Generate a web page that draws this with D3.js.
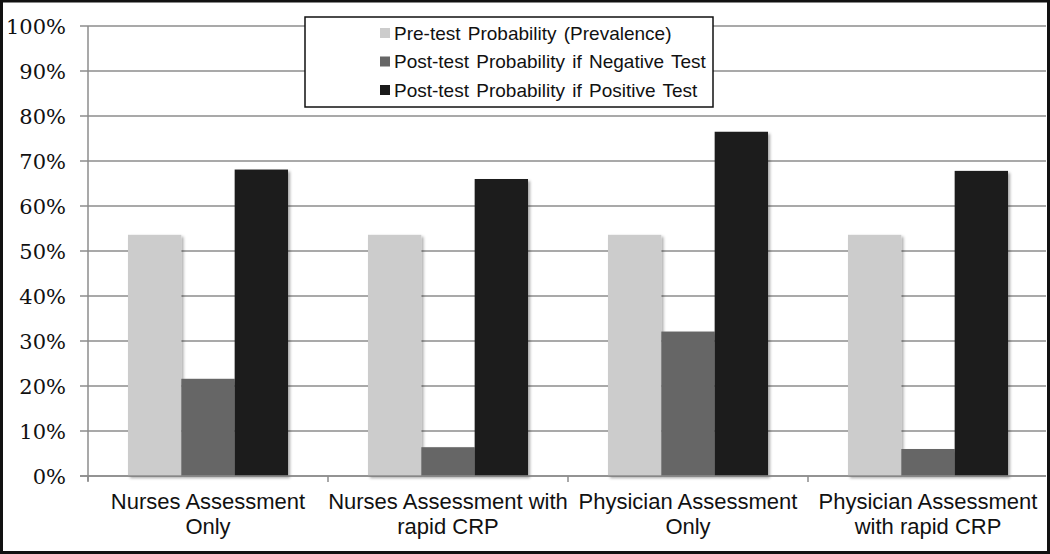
<!DOCTYPE html>
<html>
<head>
<meta charset="utf-8">
<script src="https://cdn.jsdelivr.net/npm/d3@7/dist/d3.min.js"></script>
<style>
  html, body { margin: 0; padding: 0; background: #fff; }
  svg { display: block; }
</style>
</head>
<body>
<svg id="chart" width="1050" height="554"></svg>
<script>
const categories = [
  ["Nurses Assessment", "Only"],
  ["Nurses Assessment with", "rapid CRP"],
  ["Physician Assessment", "Only"],
  ["Physician Assessment", "with rapid CRP"]
];
const seriesNames = [
  "Pre-test Probability (Prevalence)",
  "Post-test Probability if Negative Test",
  "Post-test Probability if Positive Test"
];
const preTest = [53.6, 53.6, 53.6, 53.6];
const postNegative = [21.6, 6.4, 32.1, 6.0];
const postPositive = [68.1, 66.0, 76.5, 67.8];
const yTicks = [0, 10, 20, 30, 40, 50, 60, 70, 80, 90, 100];
const seriesColors = ["#cccccc", "#666666", "#1a1a1a"];

(function () {
const seriesValues = [preTest, postNegative, postPositive];

const W = 1050, H = 554;
const svg = d3.select("#chart");
const defs = svg.append("defs");
const f = defs.append("filter").attr("id", "shadow")
  .attr("x", "-10%").attr("y", "-10%").attr("width", "130%").attr("height", "130%");
f.append("feDropShadow").attr("dx", 2).attr("dy", 2).attr("stdDeviation", 1.5)
  .attr("flood-color", "#000").attr("flood-opacity", 0.35);

svg.append("rect").attr("x", 0).attr("y", 0).attr("width", W).attr("height", H).attr("fill", "#fff");

const pLeft = 88, pRight = 1048, pTop = 26, pBottom = 476;
const x0 = d3.scaleBand().domain(d3.range(categories.length)).range([pLeft, pRight]).paddingInner(0).paddingOuter(0);
const x1 = d3.scaleBand().domain(d3.range(seriesNames.length)).range([0, x0.bandwidth()]).paddingInner(0).paddingOuter(0.75);
const y = d3.scaleLinear().domain([0, 100]).range([pBottom, pTop]);

// gridlines
svg.append("g").selectAll("line").data(yTicks).join("line")
  .attr("x1", pLeft - 8).attr("x2", pRight - 2)
  .attr("y1", d => y(d)).attr("y2", d => y(d))
  .attr("stroke", "#8c8c8c").attr("stroke-width", 1.5);

// y axis line
svg.append("line").attr("x1", pLeft).attr("x2", pLeft).attr("y1", y(100)).attr("y2", pBottom + 5)
  .attr("stroke", "#8c8c8c").attr("stroke-width", 1.5);

// y labels
svg.append("g").selectAll("text").data(yTicks).join("text")
  .attr("x", 66).attr("y", d => y(d)).attr("dy", "0.36em")
  .attr("text-anchor", "end")
  .attr("font-family", "'DejaVu Serif', serif").attr("font-size", 21)
  .attr("fill", "#111").text(d => d + "%");

// x category ticks
svg.append("g").selectAll("line").data(d3.range(categories.length)).join("line")
  .attr("x1", d => x0(d)).attr("x2", d => x0(d))
  .attr("y1", pBottom).attr("y2", pBottom + 6)
  .attr("stroke", "#8c8c8c").attr("stroke-width", 1.5);

// bars
const groups = svg.append("g").selectAll("g").data(categories).join("g")
  .attr("transform", (d, i) => `translate(${x0(i)},0)`);
groups.selectAll("rect").data((d, i) => seriesValues.map((s, j) => ({ v: s[i], j })))
  .join("rect")
  .attr("x", d => x1(d.j)).attr("width", x1.bandwidth())
  .attr("y", d => y(d.v)).attr("height", d => pBottom - y(d.v))
  .attr("fill", d => seriesColors[d.j])
  .attr("filter", "url(#shadow)");

// redraw baseline over bars
svg.append("line").attr("x1", pLeft - 8).attr("x2", pRight - 2).attr("y1", pBottom).attr("y2", pBottom)
  .attr("stroke", "#8c8c8c").attr("stroke-width", 1.5);

// x labels
const xl = svg.append("g").selectAll("text").data(categories).join("text")
  .attr("x", (d, i) => x0(i) + x0.bandwidth() / 2)
  .attr("y", 509)
  .attr("text-anchor", "middle")
  .attr("font-family", "'Liberation Sans', Arial, sans-serif").attr("font-size", 22)
  .attr("fill", "#111");
xl.each(function (d, i) {
  const t = d3.select(this);
  d.forEach((line, k) => {
    t.append("tspan").attr("x", x0(i) + x0.bandwidth() / 2).attr("dy", k === 0 ? 0 : 25).text(line);
  });
});

// legend
const lg = svg.append("g");
lg.append("rect").attr("x", 305).attr("y", 17).attr("width", 408).attr("height", 90)
  .attr("fill", "#fff").attr("stroke", "#111").attr("stroke-width", 1.5);
const items = lg.selectAll("g").data(seriesNames).join("g")
  .attr("transform", (d, i) => `translate(380, ${33 + i * 28.5})`);
items.append("rect").attr("x", 0).attr("y", -5).attr("width", 10).attr("height", 10)
  .attr("fill", (d, i) => seriesColors[i]);
items.append("text").attr("x", 14).attr("y", 0).attr("dy", "0.36em")
  .attr("font-family", "'Liberation Sans', Arial, sans-serif").attr("font-size", 19)
  .attr("word-spacing", 2)
  .attr("fill", "#111").text(d => d);

// outer frame
svg.append("rect").attr("x", 1.5).attr("y", 1).attr("width", W - 3).attr("height", H - 2.5)
  .attr("fill", "none").attr("stroke", "#111").attr("stroke-width", 3);
})();
</script>
</body>
</html>
